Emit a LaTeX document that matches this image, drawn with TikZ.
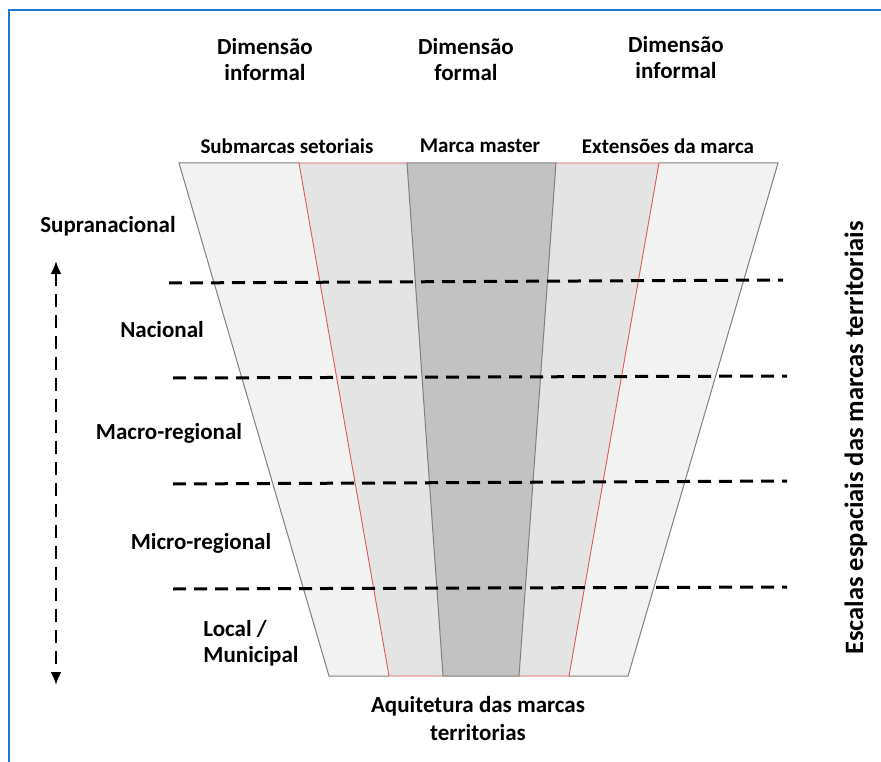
\documentclass[tikz,border=0pt]{standalone}
\usepackage{fontspec}
\setmainfont{Carlito}
\usetikzlibrary{positioning,arrows.meta}

\definecolor{frameblue}{HTML}{1E78D2}
\definecolor{bandlight}{HTML}{F2F2F2}
\definecolor{bandmid}{HTML}{E4E4E4}
\definecolor{bandmaster}{HTML}{C2C2C2}
\definecolor{edgegray}{HTML}{808080}
\definecolor{brandred}{HTML}{E05A5A}

\begin{document}
\begin{tikzpicture}[x=1pt,y=-1pt,
	heading/.style={font=\bfseries\fontsize{23}{26}\selectfont,align=center,inner sep=0pt},
	bandlabel/.style={heading,font=\bfseries\fontsize{21}{25}\selectfont},
	scaleline/.style={line width=3pt,dash pattern=on 13pt off 8pt},
	edge/.style={draw=edgegray,line width=1pt},
	redge/.style={draw=brandred,line width=0.9pt}]
	
	\useasboundingbox (0,0) rectangle (881,762);
	
	\coordinate (frame-bl) at (9,762);
	\coordinate (frame-tl) at (9,10);
	\coordinate (frame-tr) at (881,10);
	\draw [frameblue,line width=2pt] (frame-bl) -- (frame-tl) -- (frame-tr);
	
	%%%%%%%%%%%%%%%%%%%%%%%%%%%%%%%%%%%%%%%%%%%%%%%%%%%%%%
	
	\coordinate (outer-tl) at (179,163);
	\coordinate (outer-tr) at (778,163);
	\coordinate (outer-bl) at (329,676);
	\coordinate (outer-br) at (628,676);
	
	\coordinate (sub-t) at (299,163);
	\coordinate (sub-b) at (389,676);
	\coordinate (master-lt) at (407,163);
	\coordinate (master-lb) at (443,676);
	\coordinate (master-rt) at (556,163);
	\coordinate (master-rb) at (519,676);
	\coordinate (ext-t) at (659,163);
	\coordinate (ext-b) at (569,676);
	
	\fill [bandlight] (outer-tl) -- (outer-tr) -- (outer-br) -- (outer-bl) -- cycle;
	\fill [bandmid] (sub-t) -- (master-lt) -- (master-lb) -- (sub-b) -- cycle;
	\fill [bandmid] (master-rt) -- (ext-t) -- (ext-b) -- (master-rb) -- cycle;
	\fill [bandmaster] (master-lt) -- (master-rt) -- (master-rb) -- (master-lb) -- cycle;
	
	\draw [edge] (sub-t) -- (outer-tl) -- (outer-bl) -- (sub-b);
	\draw [edge] (ext-t) -- (outer-tr) -- (outer-br) -- (ext-b);
	\draw [edge] (master-lb) -- (master-lt) -- (master-rt) -- (master-rb) -- cycle;
	\draw [redge] (master-lt) -- (sub-t) -- (sub-b) -- (master-lb);
	\draw [redge] (master-rt) -- (ext-t) -- (ext-b) -- (master-rb);
	
	%%%%%%%%%%%%%%%%%%%%%%%%%%%%%%%%%%%%%%%%%%%%%%%%%%%%%%
	
	\foreach \i/\xa/\ya/\xb/\yb in {1/169/283/783/280,2/173/378/787/376,3/173/484/787/481,4/173/589/787/587}{
		\coordinate (cut-\i-w) at (\xa,\ya);
		\coordinate (cut-\i-e) at (\xb,\yb);
		\draw [scaleline] (cut-\i-w) -- (cut-\i-e);
	}
	
	\coordinate (scale-top) at (56,261);
	\coordinate (scale-bottom) at (56,685);
	\draw [{Latex[length=13pt,width=11pt]}-{Latex[length=13pt,width=11pt]},line width=2.2pt,dash pattern=on 13pt off 8pt] (scale-top) -- (scale-bottom);
	
	%%%%%%%%%%%%%%%%%%%%%%%%%%%%%%%%%%%%%%%%%%%%%%%%%%%%%%
	
	\node [heading] (dim-left) at (265,60) {Dimensão\\informal};
	\node [heading] (dim-mid) at (466,60) {Dimensão\\formal};
	\node [heading] (dim-right) at (676,58) {Dimensão\\informal};
	
	\node [bandlabel] (sub-text) at (287,146) {Submarcas setoriais};
	\node [bandlabel] (master-text) at (480,146) {Marca master};
	\node [bandlabel] (ext-text) at (668,146) {Extensões da marca};
	
	\node [heading] (supra-text) at (108,226) {Supranacional};
	\node [heading] (nac-text) at (162,330) {Nacional};
	\node [heading] (macro-text) at (169,433) {Macro-regional};
	\node [heading] (micro-text) at (201,543) {Micro-regional};
	\node [heading,align=left] (local-text) at (251,643) {Local /\\Municipal};
	
	\node [heading,font=\bfseries\fontsize{23}{28}\selectfont] (arch-text) at (478,719) {Aquitetura das marcas\\territorias};
	
	\node [heading,rotate=90,font=\bfseries\fontsize{26.5}{30}\selectfont] (scale-text) at (856,438) {Escalas espaciais das marcas territoriais};
	
\end{tikzpicture}
\end{document}
